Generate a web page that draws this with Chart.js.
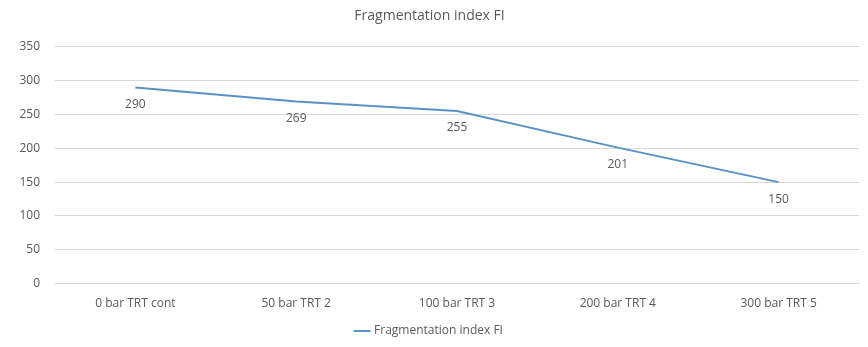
<!DOCTYPE html>
<html>
<head>
<meta charset="utf-8">
<script src="https://cdn.jsdelivr.net/npm/chart.js@4"></script>
<style>
  html, body { margin: 0; padding: 0; background: #ffffff; }
  #wrap { width: 868px; height: 347px; position: relative; }
</style>
</head>
<body>
<div id="wrap"><canvas id="c"></canvas></div>
<script>
// Treatment categories along the x axis
const categories = ['0 bar TRT cont', '50 bar TRT 2', '100 bar TRT 3', '200 bar TRT 4', '300 bar TRT 5'];
// Fragmentation index per treatment
const fiValues = [290, 269, 255, 201, 150];
const seriesName = 'Fragmentation index FI';
const yTicks = [0, 50, 100, 150, 200, 250, 300, 350];

const textColor = '#595959';
const fontFamily = "'Open Sans', 'Liberation Sans', sans-serif";

// Writes each point's value just beneath it
const valueLabels = {
  id: 'valueLabels',
  afterDatasetsDraw(chart) {
    const ctx = chart.ctx;
    ctx.save();
    ctx.font = '12px ' + fontFamily;
    ctx.fillStyle = textColor;
    ctx.textAlign = 'center';
    ctx.textBaseline = 'middle';
    chart.getDatasetMeta(0).data.forEach((pt, i) => {
      ctx.fillText(String(fiValues[i]), pt.x, pt.y + 17);
    });
    ctx.restore();
  }
};

new Chart(document.getElementById('c'), {
  type: 'line',
  data: {
    labels: categories,
    datasets: [{
      label: seriesName,
      data: fiValues,
      borderColor: '#5b92c6',
      backgroundColor: '#5b92c6',
      borderWidth: 2,
      pointRadius: 0,
      tension: 0,
      fill: false
    }]
  },
  options: {
    responsive: true,
    maintainAspectRatio: false,
    animation: false,
    layout: { padding: { left: 0, right: 9, top: 8, bottom: 0 } },
    plugins: {
      title: {
        display: true,
        text: seriesName,
        color: textColor,
        font: { family: fontFamily, size: 14, weight: 'normal' },
        padding: { top: 0, bottom: 22 }
      },
      legend: {
        position: 'bottom',
        labels: {
          color: textColor,
          font: { family: fontFamily, size: 12 },
          usePointStyle: true,
          pointStyle: 'line',
          boxWidth: 24,
          padding: 1
        }
      },
      tooltip: { enabled: false }
    },
    scales: {
      x: {
        offset: true,
        grid: { display: false, drawTicks: false },
        border: { display: true, color: '#d9d9d9' },
        ticks: {
          color: textColor,
          font: { family: fontFamily, size: 12 },
          padding: 13,
          maxRotation: 0
        }
      },
      y: {
        min: 0,
        max: 350,
        afterBuildTicks(scale) { scale.ticks = yTicks.map(v => ({ value: v })); },
        afterFit(scale) { scale.width = 55; },
        grid: { color: '#d9d9d9', drawTicks: false },
        border: { display: false },
        ticks: {
          color: textColor,
          font: { family: fontFamily, size: 12 },
          padding: 15
        }
      }
    }
  },
  plugins: [valueLabels]
});
</script>
</body>
</html>
